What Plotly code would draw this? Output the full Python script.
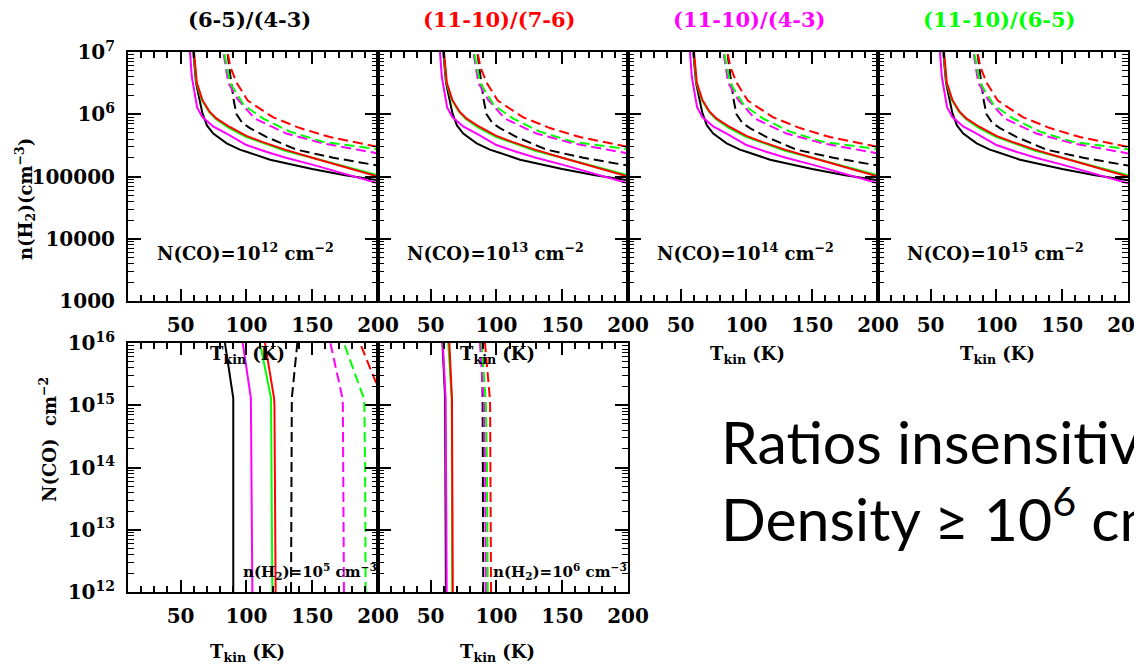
import plotly.graph_objects as go

# ---------------- data ----------------
top_titles = ["(6-5)/(4-3)", "(11-10)/(7-6)", "(11-10)/(4-3)", "(11-10)/(6-5)"]
title_colors = ["#000000", "#ff0000", "#ff00ff", "#00ff00"]
top_nco = ["12", "13", "14", "15"]          # exponent of N(CO) in each top panel
bottom_nh2 = ["5", "6"]                      # exponent of n(H2) in each bottom panel

# top row: n(H2) [cm^-3] vs T_kin [K] (same family of curves in all four panels)
blk_sol_T = [59.2, 59.6, 61.7, 64.2, 66.5, 70, 74.8, 85, 95, 100, 118, 150, 175, 200]
blk_sol_n = [1.6e7, 1e7, 3.2e6, 1.7e6, 1.05e6, 6.6e5, 4.9e5, 3.4e5, 2.7e5, 2.5e5, 1.86e5, 1.32e5, 1.05e5, 8.7e4]
mag_sol_T = [56.8, 57.1, 58.5, 60.5, 62.5, 66.5, 75, 85, 100, 115, 130, 150, 175, 200]
mag_sol_n = [1.6e7, 1e7, 4.0e6, 2.1e6, 1.3e6, 9.0e5, 6.3e5, 4.9e5, 3.2e5, 2.5e5, 2.0e5, 1.55e5, 1.1e5, 7.8e4]
grn_sol_T = [59.6, 59.9, 62.0, 66.0, 71.5, 77, 87, 100, 112, 129.3, 150, 175, 200]
grn_sol_n = [1.6e7, 1e7, 3.2e6, 1.7e6, 1.1e6, 8.3e5, 6.0e5, 4.3e5, 3.5e5, 2.6e5, 2.0e5, 1.45e5, 1.05e5]
red_sol_T = [59.9, 60.2, 62.3, 66.5, 72, 77.4, 87, 100, 112, 129.3, 150, 175, 200]
red_sol_n = [1.6e7, 1e7, 3.2e6, 1.7e6, 1.1e6, 8.5e5, 6.3e5, 4.5e5, 3.6e5, 2.7e5, 2.0e5, 1.4e5, 1.0e5]

blk_das_T = [85.2, 85.5, 88.5, 90.5, 92.5, 97, 102.7, 115.4, 138, 150, 166, 200]
blk_das_n = [1.6e7, 1e7, 3.2e6, 1.6e6, 1e6, 7.2e5, 6.0e5, 4.3e5, 2.7e5, 2.35e5, 2.0e5, 1.5e5]
mag_das_T = [82.3, 82.5, 86.2, 93.8, 106.5, 130.5, 158.4, 200]
mag_das_n = [1.6e7, 1e7, 3.2e6, 1.7e6, 8.5e5, 4.9e5, 3.4e5, 2.35e5]
grn_das_T = [82.8, 83, 87.5, 98, 112.8, 133.1, 158.4, 200]
grn_das_n = [1.6e7, 1e7, 3.2e6, 1.4e6, 8.5e5, 5.25e5, 3.6e5, 2.75e5]
red_das_T = [85.2, 85.5, 88, 92.6, 101, 120.4, 140.7, 163.5, 200]
red_das_n = [1.6e7, 1e7, 5.6e6, 3.2e6, 1.66e6, 8.9e5, 6.0e5, 4.3e5, 3.0e5]

# bottom row: N(CO) [cm^-2] vs T_kin [K] at fixed n(H2)
nco_vals = [1e12, 1e13, 1e14, 1e15, 1.3e15, 1e16]
# n(H2) = 1e5
b5_blk_sol = [90, 90, 90, 90, 90, 83.7]
b5_mag_sol = [104.5, 104.3, 104.0, 103.6, 103.4, 97.2]
b5_grn_sol = [119.7, 119.5, 119.2, 118.9, 118.7, 110.3]
b5_red_sol = [122.2, 122.0, 121.7, 121.3, 121.0, 114.1]
b5_blk_das = [133.9, 134.0, 134.2, 134.4, 134.5, 138.7]
b5_mag_das = [174.1, 174.0, 173.8, 173.3, 173.0, 163.8]
b5_grn_das = [190.6, 190.5, 190.2, 189.6, 189.2, 174.1]
b5_red_das = [204.5, 204.3, 204.1, 203.8, 203.3, 186.3]
# n(H2) = 1e6
b6_blk_sol = [61.6, 61.5, 61.3, 61.1, 61.0, 59.0]
b6_mag_sol = [62.2, 62.0, 61.8, 61.5, 61.4, 59.2]
b6_grn_sol = [66.5, 66.4, 66.2, 66.0, 66.0, 63.4]
b6_red_sol = [66.8, 66.7, 66.5, 66.3, 66.2, 64.2]
b6_blk_das = [90.0, 89.9, 89.8, 89.6, 89.5, 88.8]
b6_mag_das = [92.0, 91.8, 91.4, 90.6, 90.3, 87.5]
b6_grn_das = [93.4, 93.2, 92.8, 92.0, 91.7, 88.8]
b6_red_das = [95.9, 95.8, 95.6, 95.2, 95.0, 91.3]

BLACK, RED, MAG, GRN = "#000000", "#ff0000", "#ff00ff", "#00ff00"
DASH = "10px,5px"

top_curves = [
    (blk_sol_T, blk_sol_n, BLACK, "solid"), (mag_sol_T, mag_sol_n, MAG, "solid"),
    (grn_sol_T, grn_sol_n, GRN, "solid"), (red_sol_T, red_sol_n, RED, "solid"),
    (blk_das_T, blk_das_n, BLACK, DASH), (mag_das_T, mag_das_n, MAG, DASH),
    (grn_das_T, grn_das_n, GRN, DASH), (red_das_T, red_das_n, RED, DASH),
]
bottom_curves = [
    [(b5_blk_sol, BLACK, "solid"), (b5_mag_sol, MAG, "solid"), (b5_grn_sol, GRN, "solid"),
     (b5_red_sol, RED, "solid"), (b5_blk_das, BLACK, DASH), (b5_mag_das, MAG, DASH),
     (b5_grn_das, GRN, DASH), (b5_red_das, RED, DASH)],
    [(b6_blk_sol, BLACK, "solid"), (b6_mag_sol, MAG, "solid"), (b6_grn_sol, GRN, "solid"),
     (b6_red_sol, RED, "solid"), (b6_blk_das, BLACK, DASH), (b6_mag_das, MAG, DASH),
     (b6_grn_das, GRN, DASH), (b6_red_das, RED, DASH)],
]

# ---------------- layout geometry (page pixels) ----------------
OFF = 8                      # page body margin in front of the plot div
W, H = 1142 - OFF, 666 - OFF
panel_x = [(128, 378), (378, 628), (628, 878), (878, 1128)]
top_y = (52, 301)
bot_y = (343, 592)

def px(x):
    return (x - OFF) / W

def py(y):
    return 1 - (y - OFF) / H

FONT = "DejaVu Serif"
tickfont = dict(family=FONT, size=20, color="black", weight="bold")

fig = go.Figure()
layout = dict(width=W, height=H, margin=dict(l=0, r=0, t=0, b=0, autoexpand=False),
              paper_bgcolor="white", plot_bgcolor="white", showlegend=False)

def xaxis_def(x0, x1, anchor):
    return dict(domain=[px(x0), px(x1)], range=[10, 200], anchor=anchor, automargin=False,
                showline=True, linecolor="black", linewidth=2, mirror="ticks",
                ticks="inside", ticklen=12, tickwidth=1.5, tickcolor="black",
                tickmode="linear", tick0=0, dtick=50,
                minor=dict(ticks="inside", ticklen=6, tickwidth=1.5, tickcolor="black",
                           tickmode="linear", tick0=0, dtick=10, showgrid=False),
                showgrid=False, zeroline=False, tickfont=tickfont, ticklabelstandoff=5,
                ticklabeloverflow="allow", fixedrange=True)

def yaxis_def(y0, y1, anchor, lo, hi, labels, show):
    vals = [10 ** e for e in range(lo, hi + 1)]
    minors = [k * 10 ** e for e in range(lo, hi) for k in range(2, 10)]
    return dict(domain=[py(y1), py(y0)], type="log", range=[lo, hi], anchor=anchor,
                automargin=False,
                showline=True, linecolor="black", linewidth=2, mirror="ticks",
                ticks="inside", ticklen=13, tickwidth=1.5, tickcolor="black",
                tickmode="array", tickvals=vals, ticktext=labels, showticklabels=show,
                minor=dict(ticks="inside", ticklen=6, tickwidth=1.2, tickcolor="black",
                           tickmode="array", tickvals=minors, showgrid=False),
                showgrid=False, zeroline=False, tickfont=tickfont, ticklabelstandoff=7,
                ticklabeloverflow="allow", fixedrange=True)

top_labels = ["1000", "10000", "100000", "10<sup>6</sup>", "10<sup>7</sup>"]
bot_labels = ["10<sup>12</sup>", "10<sup>13</sup>", "10<sup>14</sup>", "10<sup>15</sup>", "10<sup>16</sup>"]

ann = []
# top row
for i, (x0, x1) in enumerate(panel_x):
    k = i + 1
    sfx = "" if k == 1 else str(k)
    layout["xaxis" + sfx] = xaxis_def(x0, x1, "y" + sfx)
    layout["yaxis" + sfx] = yaxis_def(top_y[0], top_y[1], "x" + sfx, 3, 7, top_labels, i == 0)
    for T, n, col, dash in top_curves:
        fig.add_trace(go.Scatter(x=T, y=n, mode="lines", xaxis="x" + sfx, yaxis="y" + sfx,
                                 line=dict(color=col, width=2, dash=dash), hoverinfo="skip"))
    cx = (x0 + x1) / 2
    ann.append(dict(x=px(cx - 4), y=py(20), text=top_titles[i],
                    font=dict(family=FONT, size=21, color=title_colors[i], weight="bold")))
    ann.append(dict(x=px(cx - 8), y=py(252),
                    text="N(CO)=10<sup>%s</sup> cm<sup>−2</sup>" % top_nco[i],
                    font=dict(family=FONT, size=18, color="black", weight="bold")))
    ann.append(dict(x=px(cx - 6), y=py(355), text="T<sub>kin</sub> (K)",
                    font=dict(family=FONT, size=18, color="black", weight="bold")))

# bottom row
for j in range(2):
    k = 5 + j
    x0, x1 = panel_x[j]
    sfx = str(k)
    layout["xaxis" + sfx] = xaxis_def(x0, x1, "y" + sfx)
    layout["yaxis" + sfx] = yaxis_def(bot_y[0], bot_y[1], "x" + sfx, 12, 16, bot_labels, j == 0)
    for T, col, dash in bottom_curves[j]:
        fig.add_trace(go.Scatter(x=T, y=nco_vals, mode="lines", xaxis="x" + sfx, yaxis="y" + sfx,
                                 line=dict(color=col, width=2, dash=dash), hoverinfo="skip"))
    cx = (x0 + x1) / 2
    ann.append(dict(x=px(cx - 6), y=py(653), text="T<sub>kin</sub> (K)",
                    font=dict(family=FONT, size=18, color="black", weight="bold")))
    ann.append(dict(x=px(x1 + 1), y=py(571), xanchor="right",
                    text="n(H<sub>2</sub>)=10<sup>%s</sup> cm<sup>−3</sup>" % bottom_nh2[j],
                    font=dict(family=FONT, size=15, color="black", weight="bold")))

# axis titles
ann.append(dict(x=px(25), y=py(199), textangle=-90,
                text="n(H<sub>2</sub>)(cm<sup>−3</sup>)",
                font=dict(family=FONT, size=18, color="black", weight="bold")))
ann.append(dict(x=px(48), y=py(440), textangle=-90,
                text="N(CO)  cm<sup>−2</sup>",
                font=dict(family=FONT, size=18, color="black", weight="bold")))

# slide text
ann.append(dict(x=px(719), y=py(442), xanchor="left", text="Ratios insensitive",
                font=dict(family="Lato", size=59, color="black")))
ann.append(dict(x=px(719), y=py(514), xanchor="left", text="Density ≥ 10<sup>6</sup> cm<sup>−3</sup>",
                font=dict(family="Lato", size=59, color="black")))

for a in ann:
    a.setdefault("xref", "paper")
    a.setdefault("yref", "paper")
    a.setdefault("showarrow", False)
    a.setdefault("xanchor", "center")
    a.setdefault("yanchor", "middle")
layout["annotations"] = ann

fig.update_layout(**layout)
fig.write_html("out.html")
